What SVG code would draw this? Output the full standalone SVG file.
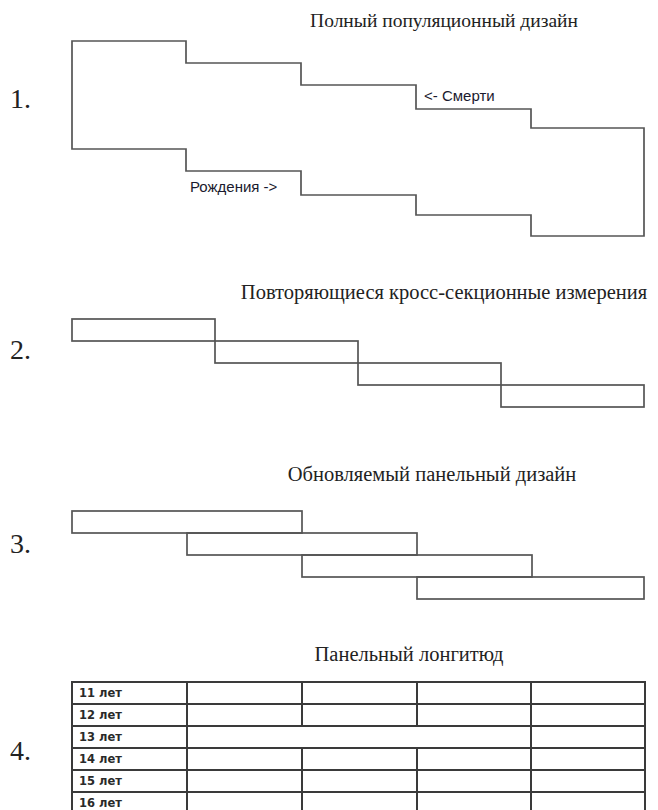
<svg xmlns="http://www.w3.org/2000/svg" width="658" height="810" viewBox="0 0 658 810">
<style>
.title{font-family:"Liberation Serif","DejaVu Serif",serif;font-size:20.5px;fill:#222;text-anchor:middle}
.num{font-family:"Liberation Serif","DejaVu Serif",serif;font-size:28px;fill:#222}
.lab{font-family:"Liberation Sans",Arial,sans-serif;font-size:15px;fill:#1a1a2e}
.cell{font-family:"DejaVu Sans",Verdana,sans-serif;font-size:11.5px;font-weight:bold;fill:#2a2a2a}
.shape{fill:none;stroke:#555;stroke-width:1.7}
.grid{fill:none;stroke:#3a3a3a;stroke-width:2}
</style>
<rect width="658" height="810" fill="#fff"/>

<g id="design1">
<text class="title" x="444" y="27" style="font-size:19.5px">Полный популяционный дизайн</text>
<text class="num" x="10" y="108">1.</text>
<polygon class="shape" points="72,41 186,41 186,63 301,63 301,85 416,85 416,109 531,109 531,128 644,128 644,236 531,236 531,215 416,215 416,195 301,195 301,171 186,171 186,149 72,149"/>
<text class="lab" x="424" y="101">&lt;- Смерти</text>
<text class="lab" x="190" y="192">Рождения -&gt;</text>
</g>

<g id="design2">
<text class="title" x="444" y="299">Повторяющиеся кросс-секционные измерения</text>
<text class="num" x="10" y="359">2.</text>
<rect class="shape" x="72" y="319" width="143" height="22"/>
<rect class="shape" x="215" y="341" width="143" height="22"/>
<rect class="shape" x="358" y="363" width="143" height="22"/>
<rect class="shape" x="501" y="385" width="143" height="22"/>
</g>

<g id="design3">
<text class="title" x="432" y="481">Обновляемый панельный дизайн</text>
<text class="num" x="10" y="553">3.</text>
<rect class="shape" x="72" y="511" width="230" height="22"/>
<rect class="shape" x="187" y="533" width="230" height="22"/>
<rect class="shape" x="302" y="555" width="230" height="22"/>
<rect class="shape" x="417" y="577" width="227" height="22"/>
</g>

<g id="design4">
<text class="title" x="409" y="661">Панельный лонгитюд</text>
<text class="num" x="10" y="760">4.</text>
<rect class="grid" x="72" y="682" width="573" height="132"/>
<g class="grid">
<line x1="72" y1="704" x2="645" y2="704"/>
<line x1="72" y1="726" x2="645" y2="726"/>
<line x1="72" y1="748" x2="645" y2="748"/>
<line x1="72" y1="770" x2="645" y2="770"/>
<line x1="72" y1="792" x2="645" y2="792"/>
<line x1="187" y1="682" x2="187" y2="814"/>
<line x1="531" y1="682" x2="531" y2="814"/>
<line x1="302" y1="682" x2="302" y2="726"/>
<line x1="417" y1="682" x2="417" y2="726"/>
<line x1="302" y1="748" x2="302" y2="814"/>
<line x1="417" y1="748" x2="417" y2="814"/>
</g>
<text class="cell" x="79" y="697">11 лет</text>
<text class="cell" x="79" y="719">12 лет</text>
<text class="cell" x="79" y="741">13 лет</text>
<text class="cell" x="79" y="763">14 лет</text>
<text class="cell" x="79" y="785">15 лет</text>
<text class="cell" x="79" y="807">16 лет</text>
</g>
</svg>
